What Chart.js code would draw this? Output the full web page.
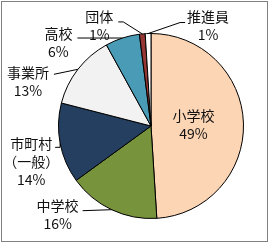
<!DOCTYPE html>
<html>
<head>
<meta charset="utf-8">
<script src="https://cdn.jsdelivr.net/npm/chart.js@4"></script>
<style>
  html, body { margin: 0; padding: 0; background: #fff; }
  #wrap { width: 269px; height: 243px; position: relative; }
</style>
</head>
<body>
<div id="wrap"><canvas id="chart" width="269" height="243"></canvas></div>
<script>
// データ
const categories = ["小学校", "中学校", "市町村\n（一般）", "事業所", "高校", "団体", "推進員"];
const values = [49, 16, 14, 13, 6, 1, 1];
const colors = ["#FCD5B5", "#77933C", "#243F60", "#F2F2F2", "#4A9BB5", "#953735", "#FFFFFF"];

// ラベルの配置（円周上の点からのずれ）
const labelLayout = [
  { inside: true, r: 0.46 },
  { dx: -54, dy: -4, leader: [[-29, 1]] },
  { dx: -29, dy: 0, leader: [[0, 4], [-5, 4]] },
  { dx: -50, dy: 3, leader: [[-24, 5]] },
  { dx: -64, dy: -4, leader: [[-45, 0]] },
  { dx: -43, dy: -17, leader: [[-19, -12], [-24, -12]] },
  { dx: 60, dy: -17, leader: [[32, -11], [37, -11]] },
];

const FONT = '14px "Noto Sans CJK JP", "Noto Sans", sans-serif';
const LINE_H = 18;

const labelPlugin = {
  id: "pieLabels",
  afterDatasetsDraw(chart) {
    const ctx = chart.ctx;
    const meta = chart.getDatasetMeta(0);
    const total = values.reduce((a, b) => a + b, 0);
    ctx.save();
    ctx.font = FONT;
    ctx.fillStyle = "#111";
    ctx.strokeStyle = "#000";
    ctx.lineWidth = 1;
    ctx.textAlign = "center";
    ctx.textBaseline = "middle";

    meta.data.forEach((arc, i) => {
      const mid = (arc.startAngle + arc.endAngle) / 2;
      const lay = labelLayout[i];
      const lines = categories[i].split("\n");
      lines.push(Math.round((values[i] / total) * 100) + "%");

      let tx, ty;
      if (lay.inside) {
        const rr = arc.outerRadius * lay.r;
        tx = arc.x + Math.cos(mid) * rr;
        ty = arc.y + Math.sin(mid) * rr - ((lines.length - 1) * LINE_H) / 2;
      } else {
        const ex = arc.x + Math.cos(mid) * arc.outerRadius;
        const ey = arc.y + Math.sin(mid) * arc.outerRadius;
        tx = ex + lay.dx;
        ty = ey + lay.dy;
        // 引き出し線
        ctx.beginPath();
        ctx.moveTo(ex, ey);
        lay.leader.forEach((p) => ctx.lineTo(ex + p[0], ey + p[1]));
        ctx.stroke();
      }
      lines.forEach((t, k) => ctx.fillText(t, tx, ty + k * LINE_H));
    });

    // 外枠
    ctx.strokeStyle = "#808080";
    ctx.strokeRect(1.5, 1.5, 266, 240);
    ctx.restore();
  },
};

new Chart(document.getElementById("chart"), {
  type: "pie",
  data: {
    labels: categories,
    datasets: [
      {
        data: values,
        backgroundColor: colors,
        borderColor: "#000",
        borderWidth: 1,
      },
    ],
  },
  options: {
    responsive: false,
    animation: false,
    layout: { padding: { left: 58, right: 25, top: 33, bottom: 24 } },
    plugins: {
      legend: { display: false },
      tooltip: { enabled: false },
    },
  },
  plugins: [labelPlugin],
});
</script>
</body>
</html>
